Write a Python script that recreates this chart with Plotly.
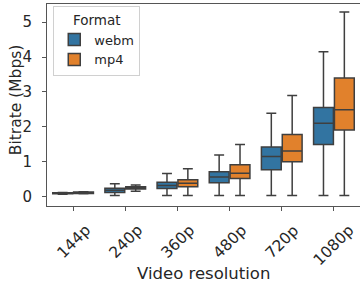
import plotly.graph_objects as go

categories = ["144p", "240p", "360p", "480p", "720p", "1080p"]

webm_low = [0.07, 0.03, 0.03, 0.03, 0.03, 0.03]
webm_q1 = [0.08, 0.12, 0.23, 0.40, 0.77, 1.49]
webm_med = [0.10, 0.18, 0.32, 0.56, 1.15, 2.10]
webm_q3 = [0.11, 0.24, 0.41, 0.71, 1.42, 2.55]
webm_high = [0.12, 0.37, 0.66, 1.19, 2.39, 4.15]

mp4_low = [0.08, 0.15, 0.03, 0.03, 0.03, 0.03]
mp4_q1 = [0.09, 0.22, 0.28, 0.52, 1.00, 1.91]
mp4_med = [0.11, 0.26, 0.38, 0.67, 1.31, 2.49]
mp4_q3 = [0.13, 0.28, 0.48, 0.91, 1.78, 3.40]
mp4_high = [0.14, 0.33, 0.80, 1.49, 2.90, 5.29]

fig = go.Figure()
for name, color, lo, q1, med, q3, hi in [
    ("webm", "#3274a1", webm_low, webm_q1, webm_med, webm_q3, webm_high),
    ("mp4", "#e1812c", mp4_low, mp4_q1, mp4_med, mp4_q3, mp4_high),
]:
    fig.add_trace(go.Box(
        name=name, x=categories, q1=q1, median=med, q3=q3,
        lowerfence=lo, upperfence=hi,
        fillcolor=color, line=dict(color="#3f3f3f", width=1.5),
        whiskerwidth=0.5, boxpoints=False,
    ))

# rotated, centred category labels (matplotlib style)
for c in categories:
    fig.add_annotation(
        x=c, xref="x", y=-0.062, yref="paper", text=c, textangle=-45,
        showarrow=False, xanchor="center", yanchor="top",
        font=dict(family="DejaVu Sans", size=15.5, color="#262626"),
    )

fig.add_annotation(
    x=0.5, xref="paper", y=-0.332, yref="paper", text="Video resolution",
    showarrow=False, xanchor="center", yanchor="middle",
    font=dict(family="DejaVu Sans", size=16.5, color="#262626"),
)
fig.add_annotation(
    x=-0.1, xref="paper", y=0.527, yref="paper", text="Bitrate (Mbps)",
    textangle=-90, showarrow=False, xanchor="center", yanchor="middle",
    font=dict(family="DejaVu Sans", size=15.5, color="#262626"),
)

fig.update_layout(
    width=360, height=285,
    margin=dict(l=47, r=0, t=4, b=79),
    boxmode="group", boxgap=0.2, boxgroupgap=0.05,
    plot_bgcolor="white", paper_bgcolor="white",
    font=dict(family="DejaVu Sans", size=15, color="#262626"),
    legend=dict(
        title=dict(text="Format", side="top center", font=dict(size=13.5)),
        x=0.02, y=0.99, xanchor="left", yanchor="top",
        bgcolor="rgba(255,255,255,0.8)", bordercolor="#d0d0d0", borderwidth=1,
        font=dict(size=13), itemwidth=30, tracegroupgap=0,
    ),
    xaxis=dict(
        showticklabels=False, showline=True, mirror=True, linecolor="#555",
        linewidth=1, ticks="outside", ticklen=4, tickcolor="#555",
        range=[-0.5, 5.5], showgrid=False,
    ),
    yaxis=dict(
        range=[-0.27, 5.52], tickvals=[0, 1, 2, 3, 4, 5],
        showline=True, mirror=False, linecolor="#555", linewidth=1,
        ticks="outside", ticklen=4, tickcolor="#555", ticklabelstandoff=7,
        showgrid=False, zeroline=False,
    ),
)

fig.write_html("out.html", config={"displayModeBar": False},
               post_script="document.body.style.margin='0';")
